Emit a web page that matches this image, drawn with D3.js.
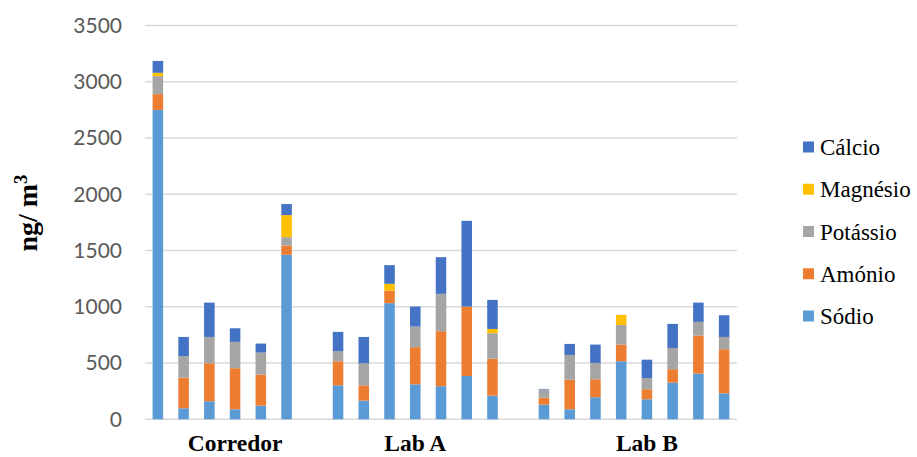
<!DOCTYPE html>
<html>
<head>
<meta charset="utf-8">
<script src="https://cdn.jsdelivr.net/npm/d3@7"></script>
<style>
  html, body { margin: 0; padding: 0; background: #fff; }
  svg { display: block; }
</style>
</head>
<body>
<svg id="chart" width="917" height="457"></svg>
<script>
// ---- data ----
const categories = ["C1","C2","C3","C4","C5","C6","gap1",
                    "A1","A2","A3","A4","A5","A6","A7","gap2",
                    "B1","B2","B3","B4","B5","B6","B7","B8"];
const sodio    = [2750, 98, 160, 89, 121, 1462, 0, 302, 166, 1032, 311, 294, 385, 210, 0, 130, 89, 196, 516, 178, 326, 406, 231];
const amonio   = [140, 272, 338, 365, 276, 83, 0, 214, 136, 112, 330, 489, 617, 329, 0, 62, 263, 160, 148, 89, 119, 338, 392];
const potassio = [160, 190, 234, 234, 196, 74, 0, 89, 196, 0, 183, 332, 0, 226, 0, 73, 220, 145, 175, 100, 189, 122, 109];
const magnesio = [30, 0, 0, 0, 0, 196, 0, 0, 0, 60, 0, 0, 0, 38, 0, 0, 0, 0, 89, 0, 0, 0, 0];
const calcio   = [105, 172, 305, 121, 80, 98, 0, 172, 234, 166, 178, 326, 762, 258, 0, 5, 98, 163, 0, 163, 214, 171, 193];
const seriesNames = ["Sódio","Amónio","Potássio","Magnésio","Cálcio"];
const seriesValues = [sodio, amonio, potassio, magnesio, calcio];
const seriesColors = ["#5B9BD5","#ED7D31","#A5A5A5","#FFC000","#4472C4"];
const groupLabels = ["Corredor","Lab A","Lab B"];
const groupAnchors = ["C4","A4","B5"];
const yTicks = [0,500,1000,1500,2000,2500,3000,3500];

// ---- layout ----
const svg = d3.select("#chart");
const plot = {left: 145, right: 737, top: 25.5, bottom: 419.3};

const x = d3.scaleBand().domain(categories).range([plot.left, plot.right])
  .paddingInner(0.59).paddingOuter(0.295);
const y = d3.scaleLinear().domain([0, 3500]).range([plot.bottom, plot.top]);

// gridlines
svg.append("g").selectAll("line").data(yTicks).join("line")
  .attr("x1", plot.left).attr("x2", plot.right)
  .attr("y1", d => y(d)).attr("y2", d => y(d))
  .attr("stroke", "#D9D9D9").attr("stroke-width", 1.5);

// y axis labels
const yAxis = d3.axisLeft(y).tickValues(yTicks).tickSize(0).tickPadding(23).tickFormat(d3.format("d"));
const gy = svg.append("g").attr("transform", `translate(${plot.left},0)`).call(yAxis);
gy.select(".domain").remove();
gy.selectAll("text").attr("fill", "#595959")
  .style("font-family", "Lato, 'Liberation Sans', sans-serif").style("font-size", "21px");

// stacked data
const table = categories.map((c, i) => {
  const o = {cat: c};
  seriesNames.forEach((s, k) => o[s] = seriesValues[k][i]);
  return o;
});
const stacked = d3.stack().keys(seriesNames)(table);

svg.append("g").selectAll("g").data(stacked).join("g")
  .attr("fill", (d, i) => seriesColors[i])
  .selectAll("rect").data(d => d.filter(p => p[1] - p[0] > 0)).join("rect")
  .attr("x", d => x(d.data.cat))
  .attr("width", x.bandwidth())
  .attr("y", d => y(d[1]))
  .attr("height", d => y(d[0]) - y(d[1]));

// group labels
svg.append("g").selectAll("text").data(groupLabels).join("text")
  .attr("x", (d, i) => x(groupAnchors[i]) + x.bandwidth() / 2)
  .attr("y", 451)
  .attr("text-anchor", "middle")
  .style("font-family", "'Liberation Serif', 'Times New Roman', serif")
  .style("font-weight", "bold").style("font-size", "23.5px")
  .attr("fill", "#000")
  .text(d => d);

// y axis title
const title = svg.append("text")
  .attr("transform", "translate(37,213) rotate(-90)")
  .attr("text-anchor", "middle")
  .style("font-family", "'Liberation Serif', 'Times New Roman', serif")
  .style("font-weight", "bold").style("font-size", "28px")
  .attr("fill", "#000");
title.append("tspan").text("ng/ m");
title.append("tspan").attr("baseline-shift", "super").style("font-size", "19px").text("3");

// legend (reverse order: Cálcio on top)
const legendOrder = seriesNames.map((n, i) => ({name: n, color: seriesColors[i]})).reverse();
const lg = svg.append("g").selectAll("g").data(legendOrder).join("g")
  .attr("transform", (d, i) => `translate(803,${147 + i * 42.25})`);
lg.append("rect").attr("x", 0).attr("y", -5.5).attr("width", 11).attr("height", 11)
  .attr("fill", d => d.color);
lg.append("text").attr("x", 17).attr("y", 8)
  .style("font-family", "'Liberation Serif', 'Times New Roman', serif")
  .style("font-size", "23px").attr("fill", "#000")
  .text(d => d.name);
</script>
</body>
</html>
